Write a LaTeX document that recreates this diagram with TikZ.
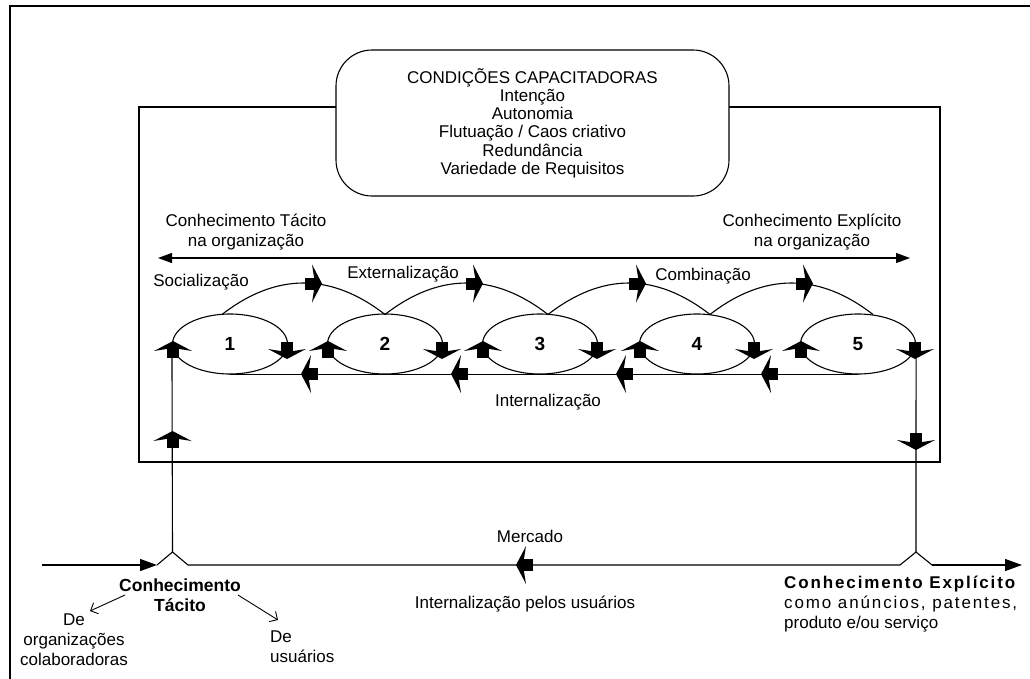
\documentclass[tikz,border=0pt]{standalone}
\usepackage{fontspec}
\setmainfont{Liberation Sans}
\usetikzlibrary{arrows.meta,shapes.geometric,calc}
\begin{document}
\begin{tikzpicture}[x=1pt,y=-1pt,
  ln/.style={line width=1.1pt, draw=black},
  % block arrowhead: square body with thin swept wings, pointing along +x
  blk/.pic={\fill[black] (-8,-6) rectangle (6,6);
            \fill[black] (9,0) -- (-1,-19) -- (2,0) -- (-1,19) -- cycle;},
  txt/.style={font=\fontsize{17}{20}\selectfont, inner sep=0pt, align=center},
  ell/.style={ellipse, draw, line width=1.1pt, minimum width=115pt, minimum height=60pt,
              inner sep=0pt, font=\bfseries\fontsize{19}{19}\selectfont},
  tri/.style={-{Triangle[length=17pt,width=12pt]}},
  barb/.style={line width=0.9pt, -{Straight Barb[length=6pt,width=12pt]}}
]
\useasboundingbox (0,0) rectangle (1030,678);
\clip (0,0) rectangle (1030,678);

% outer frame (open to the right and bottom)
\draw[line width=1.6pt] (10,700) -- (10,6) -- (1050,6);

% organisation box
\node[draw, line width=1.1pt, minimum width=801pt, minimum height=355pt, inner sep=0pt] (org) at (539.5,284.5) {};

% enabling conditions
\node[draw, line width=1.1pt, fill=white, rounded corners=36pt, minimum width=393pt, minimum height=146pt,
      font=\fontsize{17}{18.2}\selectfont, align=center] (cond) at (532.5,123)
  {CONDIÇÕES CAPACITADORAS\\Intenção\\Autonomia\\Flutuação / Caos criativo\\Redundância\\Variedade de Requisitos};

% tacit / explicit axis
\coordinate (axl) at (158,258);
\coordinate (axr) at (910,258);
\draw[ln, {Triangle[length=14pt,width=10pt]}-{Triangle[length=14pt,width=10pt]}] (axl) -- (axr);
\node[txt] (tacorg) at (246,232) {Conhecimento Tácito\\na organização};
\node[txt] (exporg) at (812,232) {Conhecimento Explícito\\na organização};

% knowledge-creation stages
\node[ell] (e1) at (230,344) {1};
\node[ell] (e2) at (385,344) {2};
\node[ell] (e3) at (540,344) {3};
\node[ell] (e4) at (697,344) {4};
\node[ell] (e5) at (858,344) {5};

% arches over the stages
\coordinate (a0) at (222,314.5);
\coordinate (a1) at (385,314.5);
\coordinate (a2) at (548,314.5);
\coordinate (a3) at (710,314.5);
\coordinate (a4) at (873,314.5);
\foreach \p/\q in {a0/a1,a1/a2,a2/a3,a3/a4}
  \draw[ln] (\p) .. controls ($(\p)+(54,-42)$) and ($(\q)+(-54,-42)$) .. (\q);
\foreach \x in {313,474,637,804}
  \pic at (\x,283.5) {blk};

\node[txt] (soc) at (201,282) {Socialização};
\node[txt] (ext) at (403,274) {Externalização};
\node[txt] (comb) at (703,276) {Combinação};

% arrowheads around each stage
\foreach \c in {230,385,540,697,858} {
  \pic[rotate=90] at (\c-57,350) {blk};
  \pic[rotate=-90] at (\c+57,350) {blk};
}

% internalisation line
\draw[ln] (e1.south) -- (e5.south);
\foreach \x in {310,460,625,770}
  \pic[rotate=180] at (\x,374) {blk};
\node[txt] (intl) at (548,402) {Internalização};

% market line with its two junctions
\coordinate (m0) at (42,565);
\coordinate (kt1) at (157,565);
\coordinate (kt) at (172.5,552);
\coordinate (kt2) at (188,565);
\coordinate (ke1) at (900,565);
\coordinate (ke) at (916,552);
\coordinate (ke2) at (932,565);
\coordinate (m1) at (1022,565);
\draw[ln, tri] (m0) -- (kt1);
\draw[ln] (kt1) -- (kt) -- (kt2) -- (ke1) -- (ke) -- (ke2);
\draw[ln, tri] (ke2) -- (m1);
\pic[rotate=180] at (525,565) {blk};

% links between the market and the organisation
\draw[ln] (e1.west) -- (kt);
\pic[rotate=90] at (172.5,440) {blk};
\draw[ln] (e5.east) -- (ke);
\pic[rotate=-90] at (916,441) {blk};

\node[txt] (merc) at (530,536) {Mercado};
\node[txt] (intu) at (525,604) {Internalização pelos usuários};

% tacit knowledge sources
\node[txt, font=\bfseries\fontsize{17.5}{20}\selectfont] (ct) at (180,595) {Conhecimento\\Tácito};
\node[txt] (deorg) at (74,639.5) {De\\organizações\\colaboradoras};
\node[txt, align=left, anchor=west] (deusu) at (270,647) {De\\usuários};
\coordinate (b1) at (90,611);
\coordinate (b2) at (278,620);
\draw[barb] (125,595) -- (b1);
\draw[barb] (238,595) -- (b2);

% explicit knowledge
\node[txt, align=left, anchor=north west] (ce) at (784,576)
  {{\bfseries\addfontfeatures{LetterSpace=11}Conhecimento Explícito}\\
   {\addfontfeatures{LetterSpace=11}como anúncios, patentes,}\\
   produto e/ou serviço};
\end{tikzpicture}
\end{document}
